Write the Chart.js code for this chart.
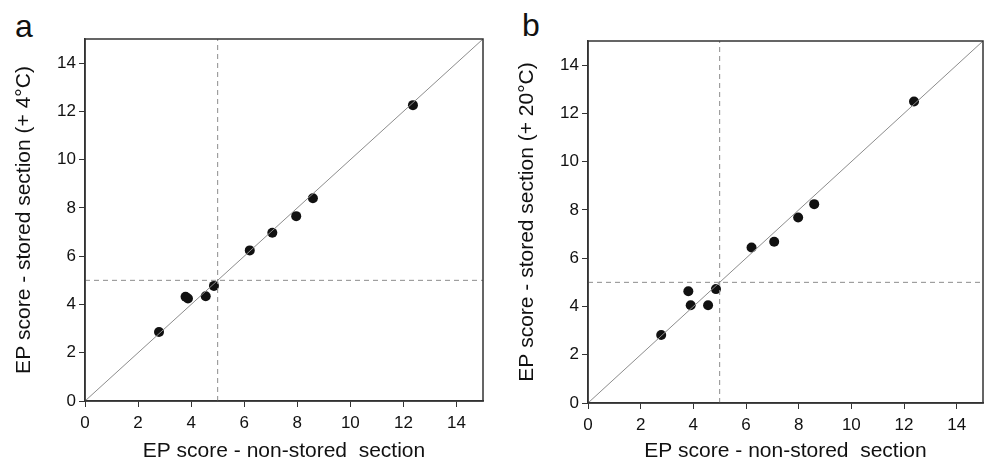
<!DOCTYPE html>
<html>
<head>
<meta charset="utf-8">
<script src="https://cdn.jsdelivr.net/npm/chart.js@4"></script>
<style>
  body { margin: 0; background: #fff; }
  #wrap { position: relative; width: 988px; height: 465px; overflow: hidden; }
  .panel { position: absolute; top: 0; width: 494px; height: 465px; }
  .letter { position: absolute; font-family: "Liberation Sans", Arial, sans-serif; font-size: 32px; line-height: 1; color: #111; }
</style>
</head>
<body>
<div id="wrap">
  <div class="letter" style="left:15px; top:10px;">a</div>
  <div class="letter" style="left:522px; top:9px;">b</div>
  <div class="panel" style="left:0px;"><canvas id="chartA"></canvas></div>
  <div class="panel" style="left:494px;"><canvas id="chartB"></canvas></div>
</div>
<script>
// EP scores, non-stored section (x) vs stored section (y)
var xA = [2.79, 3.79, 3.88, 4.55, 4.86, 6.21, 7.06, 7.96, 8.59, 12.36]
var yA = [2.86, 4.32, 4.25, 4.34, 4.77, 6.24, 6.97, 7.66, 8.40, 12.26]
var xB = [2.78, 3.81, 3.90, 4.56, 4.86, 6.21, 7.07, 7.98, 8.59, 12.38]
var yB = [2.82, 4.63, 4.05, 4.05, 4.72, 6.44, 6.68, 7.69, 8.24, 12.49]

var tickValues = [0, 2, 4, 6, 8, 10, 12, 14]
var axisMin = 0
var axisMax = 15
var cutoff = 5   // dashed reference lines

var xTitle = 'EP score - non-stored  section'
var yTitleA = 'EP score - stored section (+ 4°C)'
var yTitleB = 'EP score - stored section (+ 20°C)'

var fontFamily = '"Liberation Sans", Arial, sans-serif'

// plot box around the chart area
var boxPlugin = {
    id: 'box',
    afterDraw(chart) {
        var a = chart.chartArea
        var ctx = chart.ctx
        ctx.save()
        ctx.strokeStyle = '#333'
        ctx.lineWidth = 1.5
        ctx.strokeRect(a.left, a.top, a.right - a.left, a.bottom - a.top)
        ctx.restore()
    }
}

function makePanel(id, xs, ys, yTitle, yWidth, xHeight, pad, yTitlePad) {
    var points = xs.map((x, i) => ({ x: x, y: ys[i] }))
    var refStyle = { borderColor: '#8c8c8c', borderWidth: 1, pointRadius: 0, showLine: true, fill: false }

    var datasets = [
        Object.assign({ data: [{ x: axisMin, y: axisMin }, { x: axisMax, y: axisMax }] }, refStyle),
        Object.assign({ data: [{ x: cutoff, y: axisMin }, { x: cutoff, y: axisMax }], borderDash: [5, 4] }, refStyle),
        Object.assign({ data: [{ x: axisMin, y: cutoff }, { x: axisMax, y: cutoff }], borderDash: [5, 4] }, refStyle),
        { data: points, backgroundColor: '#111', borderColor: '#111', pointRadius: 5, borderWidth: 0 }
    ]

    function axis(title, isY, size) {
        return {
            type: 'linear',
            min: axisMin,
            max: axisMax,
            afterBuildTicks: s => { s.ticks = tickValues.map(v => ({ value: v })) },
            afterFit: s => { if (isY) s.width = size; else s.height = size },
            border: { display: true, color: '#333', width: 1.5 },
            grid: { drawOnChartArea: false, drawTicks: true, tickLength: 6, color: '#333', tickWidth: 1 },
            ticks: { color: '#111', padding: isY ? 3 : 6, maxRotation: 0, autoSkip: false, font: { family: fontFamily, size: 17 } },
            title: {
                display: true, text: title, color: '#111',
                font: { family: fontFamily, size: 21 },
                padding: isY ? { top: yTitlePad, bottom: 0 } : { top: 0, bottom: 1 }
            }
        }
    }

    return new Chart(document.getElementById(id), {
        type: 'scatter',
        data: { datasets: datasets },
        options: {
            animation: false,
            responsive: true,
            maintainAspectRatio: false,
            layout: { padding: pad },
            plugins: { legend: { display: false }, tooltip: { enabled: false } },
            scales: {
                x: axis(xTitle, false, xHeight),
                y: axis(yTitle, true, yWidth)
            }
        },
        plugins: [boxPlugin]
    })
}

makePanel('chartA', xA, yA, yTitleA, 85, 64, { top: 39, right: 11, left: 0, bottom: 0 }, 12)
makePanel('chartB', xB, yB, yTitleB, 94, 62, { top: 41, right: 1, left: 0, bottom: 0 }, 21)
</script>
</body>
</html>
